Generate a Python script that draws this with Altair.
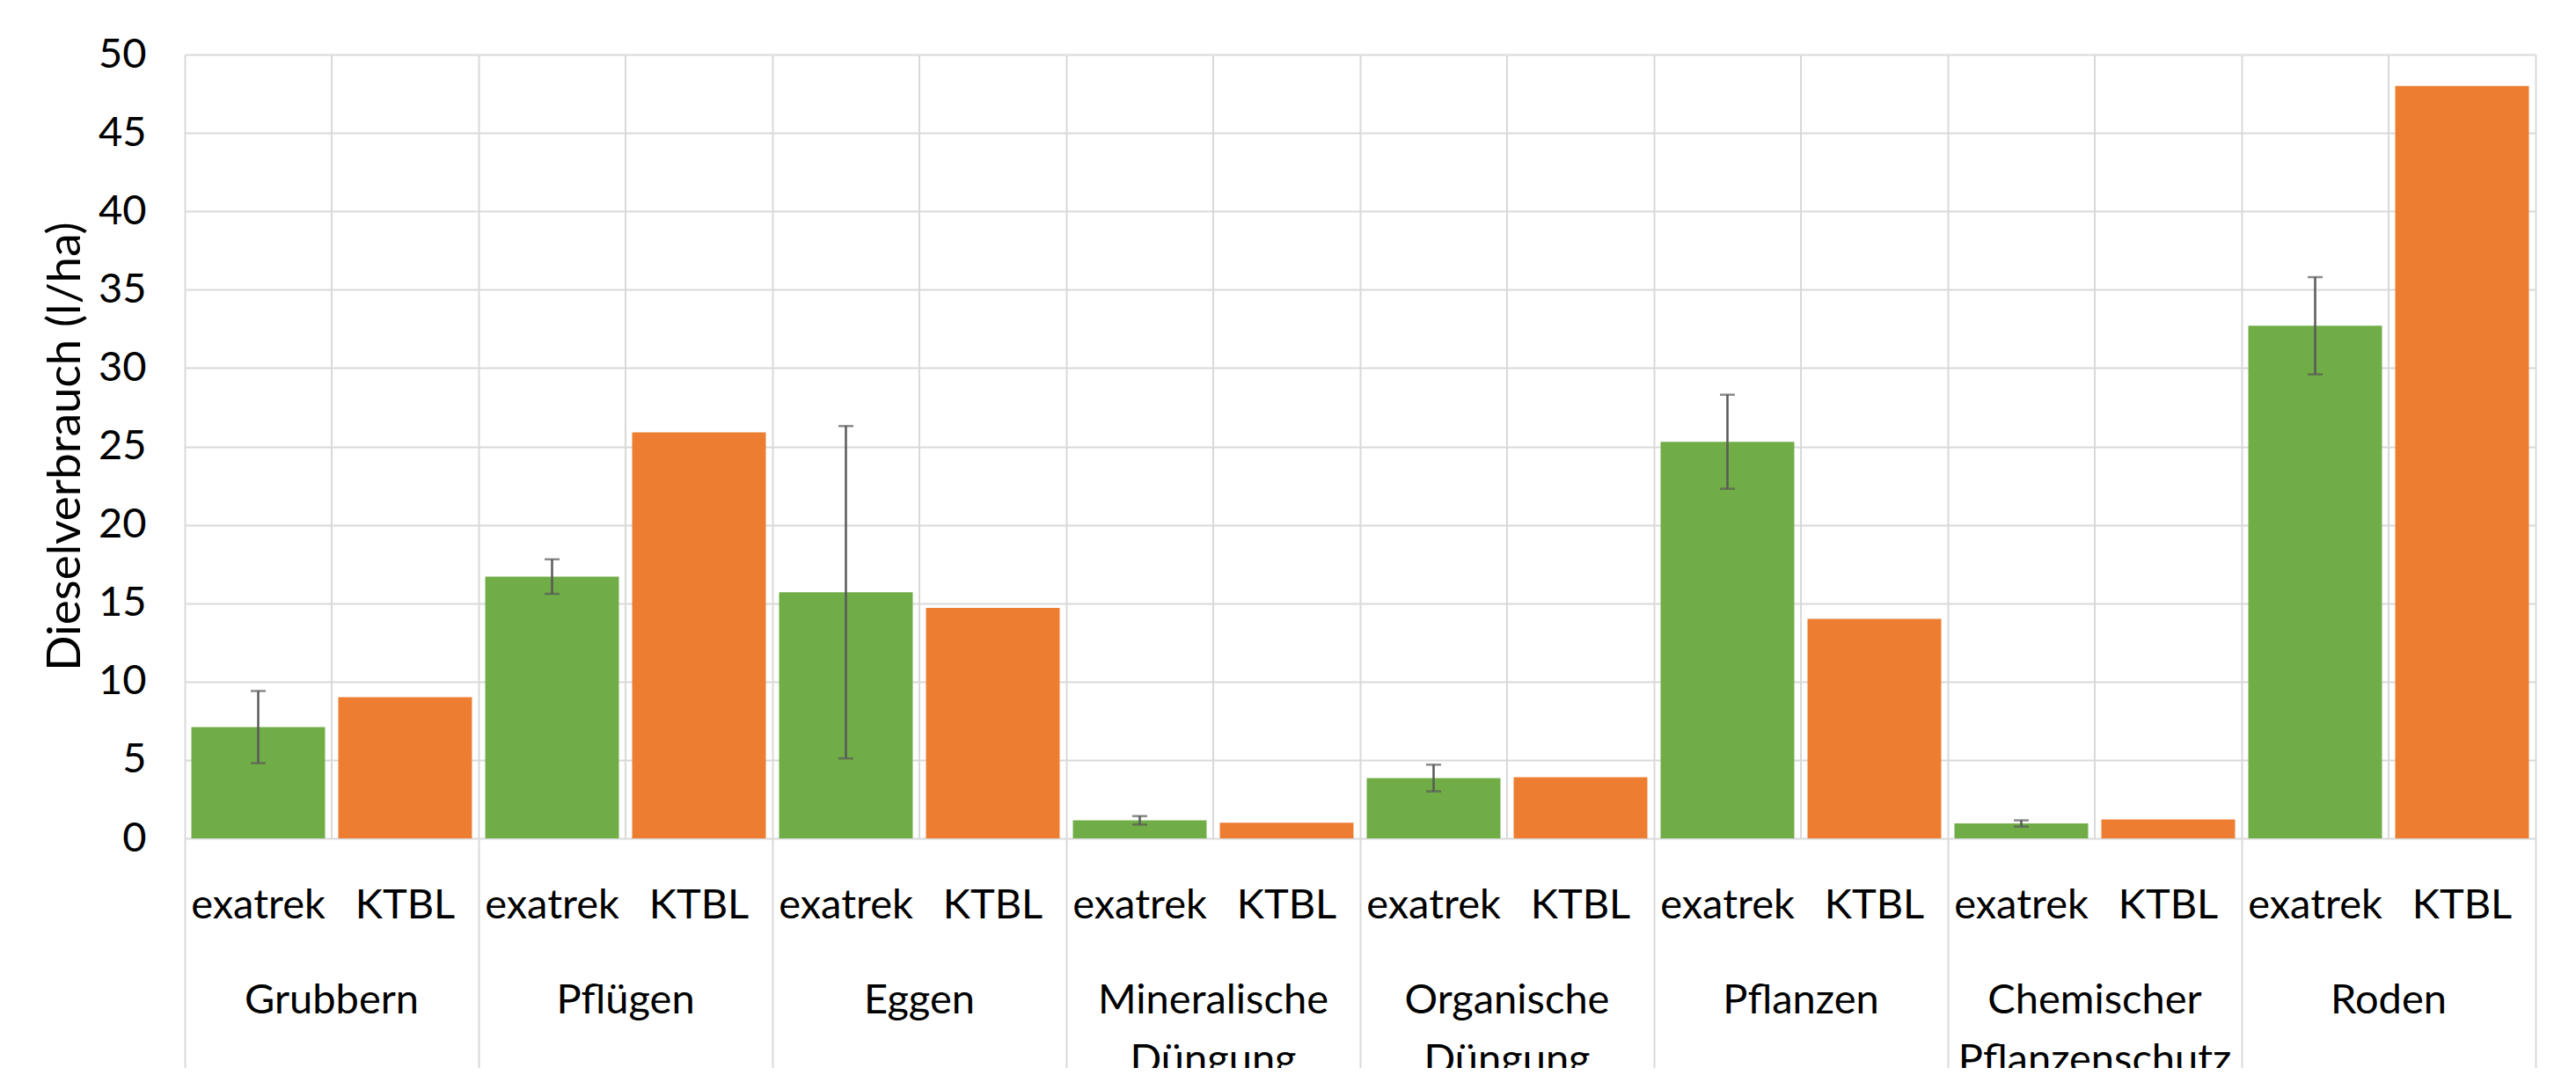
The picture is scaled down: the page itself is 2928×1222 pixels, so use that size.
import altair as alt
import pandas as pd

groups = ["Grubbern", "Pflügen", "Eggen", "Mineralische Düngung", "Organische Düngung",
          "Pflanzen", "Chemischer Pflanzenschutz", "Roden"]
group_labels = ["Grubbern", "Pflügen", "Eggen", "Mineralische\nDüngung", "Organische\nDüngung",
                "Pflanzen", "Chemischer\nPflanzenschutz", "Roden"]
sources = ["exatrek", "KTBL"]
exatrek = [7.1, 16.7, 15.7, 1.15, 3.85, 25.3, 0.95, 32.7]
exatrek_err = [2.3, 1.1, 10.6, 0.27, 0.85, 3.0, 0.2, 3.1]
ktbl = [9.0, 25.9, 14.7, 1.0, 3.9, 14.0, 1.2, 48.0]

rows = []
for g, v, e, k in zip(groups, exatrek, exatrek_err, ktbl):
    rows.append({"group": g, "source": "exatrek", "value": v, "lo": v - e, "hi": v + e, "has_err": True})
    rows.append({"group": g, "source": "KTBL", "value": k, "lo": None, "hi": None, "has_err": False})
df = pd.DataFrame(rows)
gdf = pd.DataFrame({"group": groups, "label": group_labels})

W, H = 2672, 891
GRID = "#d9d9d9"
FONT = "Lato"
FS = 47

xenc = alt.X("group:N", sort=groups,
             scale=alt.Scale(paddingInner=0, paddingOuter=0),
             axis=alt.Axis(title=None, labels=False, domain=False, grid=True,
                           gridColor=GRID, gridWidth=2, tickBand="extent",
                           ticks=True, tickSize=261, tickColor=GRID, tickWidth=2))
xoff = alt.XOffset("source:N", sort=sources,
                   scale=alt.Scale(paddingInner=0.09, paddingOuter=0.045))
yscale = alt.Scale(domain=[0, 50], nice=False)

dividers = alt.Chart(gdf).mark_rule(color=GRID, strokeWidth=2).encode(
    x=alt.X("group:N", sort=groups),
    y=alt.value(0), y2=alt.value(H))

bars = alt.Chart(df).mark_bar().encode(
    x=xenc, xOffset=xoff,
    y=alt.Y("value:Q", scale=yscale,
            axis=alt.Axis(values=list(range(0, 55, 5)), title="Dieselverbrauch (l/ha)",
                          domain=False, ticks=False, grid=True, gridColor=GRID, gridWidth=2,
                          labelFont=FONT, labelFontSize=FS, labelColor="black", labelPadding=44,
                          titleFont=FONT, titleFontSize=53, titleFontWeight="normal",
                          titleColor="black", titleX=-136, titleY=445, titleAngle=270,
                          titleAlign="center", titleBaseline="middle")),
    color=alt.Color("source:N", sort=sources,
                    scale=alt.Scale(domain=sources, range=["#70AD47", "#ED7D31"]), legend=None))

errdf = df[df["has_err"]]
err_rule = alt.Chart(errdf).mark_rule(color="#595959", strokeWidth=2.5).encode(
    x=alt.X("group:N", sort=groups), xOffset=xoff,
    y=alt.Y("lo:Q", scale=yscale), y2="hi:Q")
cap_lo = alt.Chart(errdf).mark_tick(color="#595959", thickness=2.5, size=17, orient="horizontal").encode(
    x=alt.X("group:N", sort=groups), xOffset=xoff, y=alt.Y("lo:Q", scale=yscale))
cap_hi = alt.Chart(errdf).mark_tick(color="#595959", thickness=2.5, size=17, orient="horizontal").encode(
    x=alt.X("group:N", sort=groups), xOffset=xoff, y=alt.Y("hi:Q", scale=yscale))

sub_labels = alt.Chart(df).mark_text(font=FONT, fontSize=FS, color="black",
                                     baseline="alphabetic", align="center").encode(
    x=alt.X("group:N", sort=groups), xOffset=xoff,
    y=alt.value(982), text="source:N")

grp_labels = alt.Chart(gdf).mark_text(font=FONT, fontSize=FS, color="black",
                                      baseline="alphabetic", align="center",
                                      lineBreak="\n", lineHeight=68).encode(
    x=alt.X("group:N", sort=groups), y=alt.value(1090), text="label:N")

chart = alt.layer(dividers, bars, err_rule, cap_lo, cap_hi, sub_labels, grp_labels).properties(
    width=W, height=H,
    autosize=alt.AutoSizeParams(type="none"),
    padding={"left": 202, "top": 54, "right": 38, "bottom": 261},
).configure_view(stroke=GRID, strokeWidth=2).configure(font=FONT)

chart.save("out.html", embed_options={"renderer": "svg", "actions": False})
